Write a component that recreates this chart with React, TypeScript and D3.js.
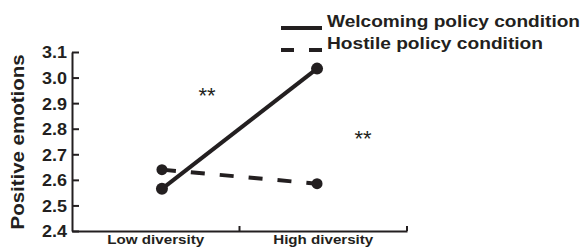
import React, { useRef, useEffect } from 'react';
import { select, scaleBand, scalePoint, scaleLinear, axisLeft, axisBottom, line } from 'd3';

const categories = ['Low diversity', 'High diversity'];
const welcoming = [2.565, 3.035];
const hostile = [2.64, 2.585];
const yTicks = [2.4, 2.5, 2.6, 2.7, 2.8, 2.9, 3.0, 3.1];
const seriesNames = ['Welcoming policy condition', 'Hostile policy condition'];

const W = 584;
const H = 248;
const ink = '#231f20';
const font = '"Liberation Sans", Arial, sans-serif';

const App: React.FC = () => {
  const svgRef = useRef<SVGSVGElement>(null);

  useEffect(() => {
    const svg = select(svgRef.current as any);
    svg.selectAll('*').remove();

    const x = scaleBand().domain(categories).range([72, 407]).padding(0);
    // markers sit a little inside the band centres
    const xp = scalePoint().domain(categories).range([72, 407]).padding(0.58);
    const y = scaleLinear().domain([2.4, 3.1]).range([231, 52]);

    // y axis, ticks pointing inward
    const yAxis = svg
      .append('g')
      .attr('transform', 'translate(72,0)')
      .call(
        axisLeft(y)
          .tickValues(yTicks)
          .tickFormat((d: any) => Number(d).toFixed(1))
          .tickSizeInner(-7)
          .tickSizeOuter(0)
          .tickPadding(5),
      );
    yAxis.select('.domain').attr('stroke', ink).attr('stroke-width', 2);
    yAxis.selectAll('.tick line').attr('stroke', ink).attr('stroke-width', 2);
    yAxis
      .selectAll('.tick text')
      .attr('fill', ink)
      .attr('font-family', font)
      .attr('font-weight', 'bold')
      .attr('font-size', 16.5)
      .attr('textLength', 25)
      .attr('lengthAdjust', 'spacingAndGlyphs')
      .attr('dy', '0.36em');

    // x axis
    const xAxis = svg
      .append('g')
      .attr('transform', 'translate(0,231)')
      .call(axisBottom(x).tickSize(0).tickSizeOuter(0).tickPadding(6));
    xAxis.select('.domain').attr('stroke', ink).attr('stroke-width', 2);
    xAxis
      .selectAll('.tick text')
      .attr('fill', ink)
      .attr('font-family', font)
      .attr('font-weight', 'bold')
      .attr('font-size', 12.5)
      .attr('dy', '0.55em')
      .attr('textLength', (d: any, i: number) => (i === 0 ? 97 : 100))
      .attr('lengthAdjust', 'spacingAndGlyphs');

    // tick marks at band boundaries
    svg
      .selectAll('.xbound')
      .data(categories)
      .join('line')
      .attr('class', 'xbound')
      .attr('x1', d => (x(d) as number) + x.bandwidth())
      .attr('x2', d => (x(d) as number) + x.bandwidth())
      .attr('y1', 231)
      .attr('y2', 226)
      .attr('stroke', ink)
      .attr('stroke-width', 2);

    // y title
    svg
      .append('text')
      .attr('transform', 'translate(24,142) rotate(-90)')
      .attr('text-anchor', 'middle')
      .attr('fill', ink)
      .attr('font-family', font)
      .attr('font-weight', 'bold')
      .attr('font-size', 18)
      .attr('textLength', 175)
      .attr('lengthAdjust', 'spacingAndGlyphs')
      .text('Positive emotions');

    const lineGen = line<number>()
      .x((_, i) => xp(categories[i]) as number)
      .y(d => y(d));

    const series = [
      { values: welcoming, dash: null, r: 6 },
      { values: hostile, dash: '14,15', r: 5.5 },
    ];

    series.forEach(s => {
      svg
        .append('path')
        .datum(s.values)
        .attr('d', lineGen as any)
        .attr('fill', 'none')
        .attr('stroke', ink)
        .attr('stroke-width', 4)
        .attr('stroke-dasharray', s.dash as any);
      svg
        .append('g')
        .selectAll('circle')
        .data(s.values)
        .join('circle')
        .attr('cx', (_, i) => xp(categories[i]) as number)
        .attr('cy', d => y(d))
        .attr('r', s.r)
        .attr('fill', ink);
    });

    // significance markers
    const stars = [
      { x: 207, y: 90 },
      { x: 363, y: 133 },
    ];
    svg
      .selectAll('.stars')
      .data(stars)
      .join('text')
      .attr('class', 'stars')
      .attr('x', d => d.x)
      .attr('y', d => d.y)
      .attr('dy', '0.6em')
      .attr('text-anchor', 'middle')
      .attr('fill', ink)
      .attr('font-family', font)
      .attr('font-size', 22)
      .text('**');

    // legend
    const legend = svg.append('g');
    const legendY = [28, 50];
    const legendLen = [253, 216];
    seriesNames.forEach((name, i) => {
      legend
        .append('line')
        .attr('x1', 281)
        .attr('x2', 322)
        .attr('y1', legendY[i])
        .attr('y2', legendY[i])
        .attr('stroke', ink)
        .attr('stroke-width', 4)
        .attr('stroke-dasharray', i === 1 ? '13,15' : null);
      legend
        .append('text')
        .attr('x', 327)
        .attr('y', legendY[i] - 1)
        .attr('fill', ink)
        .attr('font-family', font)
        .attr('font-weight', 'bold')
        .attr('font-size', 16.5)
        .attr('textLength', legendLen[i])
        .attr('lengthAdjust', 'spacingAndGlyphs')
        .text(name);
    });
  }, []);

  return (
    <svg
      ref={svgRef}
      width={W}
      height={H}
      style={{ position: 'absolute', left: 0, top: 0, background: '#fff' }}
    ></svg>
  );
};

export default App;
